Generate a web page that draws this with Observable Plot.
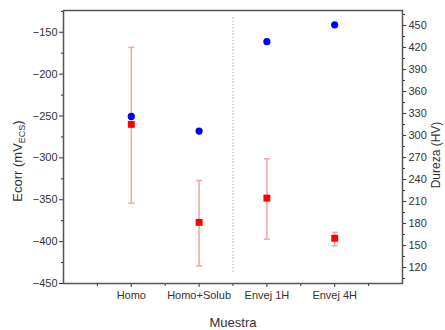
<!DOCTYPE html>
<html><head><meta charset="utf-8">
<script src="https://cdn.jsdelivr.net/npm/d3@7"></script>
<script src="https://cdn.jsdelivr.net/npm/@observablehq/plot@0.6"></script>
<style>
body{margin:0;background:#fff;}
#chart svg{font-family:"Liberation Sans",Arial,sans-serif;}
</style></head>
<body><div id="chart"></div>
<script>
const categories = ["Homo", "Homo+Solub", "Envej 1H", "Envej 4H"];
const ecorr = [-260, -377, -348, -396];
const ecorrLow = [-354, -429, -397, -405];
const ecorrHigh = [-168, -327, -301, -389];
const dureza = [326, 306, 428, 451];

const leftDomain = [-450, -124];
const rightDomain = [98.2, 470.5];
const leftTicks = [-450, -400, -350, -300, -250, -200, -150];
const rightTicks = [120, 150, 180, 210, 240, 270, 300, 330, 360, 390, 420, 450];
const separator = 2.5;

const h2y = d3.scaleLinear().domain(rightDomain).range(leftDomain);

const pts = categories.map((c, i) => ({
  c, x: i + 1, e: ecorr[i], lo: ecorrLow[i], hi: ecorrHigh[i], h: dureza[i]
}));

const leftMinor = d3.range(-425, -124, 50);
const rightMinor = d3.range(105, 470, 30);
const xMinor = [0.5, 1.5, 2.5, 3.5, 4.5];

const capW = 0.045;
const errColor = "#f5a3a3";

const plot = Plot.plot({
  width: 445,
  height: 330,
  marginLeft: 63,
  marginRight: 43,
  marginTop: 10,
  marginBottom: 47,
  style: {fontSize: "11px", color: "#333", background: "#fff"},
  x: {domain: [0, 5]},
  y: {domain: leftDomain},
  marks: [
    Plot.ruleX([separator], {y1: -133, y2: -439, stroke: "#999", strokeDasharray: "1.2,2", strokeWidth: 1}),
    Plot.ruleX(pts, {x: "x", y1: "lo", y2: "hi", stroke: errColor, strokeWidth: 1.5}),
    Plot.link(pts, {x1: d => d.x - capW, x2: d => d.x + capW, y1: "lo", y2: "lo", stroke: errColor, strokeWidth: 1.5}),
    Plot.link(pts, {x1: d => d.x - capW, x2: d => d.x + capW, y1: "hi", y2: "hi", stroke: errColor, strokeWidth: 1.5}),
    Plot.dot(pts, {x: "x", y: "e", symbol: "square", r: 3.9, fill: "#ff0000"}),
    Plot.dot(pts, {x: "x", y: d => h2y(d.h), symbol: "circle", r: 3.6, fill: "#0000ff"}),
    Plot.axisY({ticks: leftTicks, tickSize: 4, tickPadding: 2, label: null, tickFormat: d => d.toString().replace("-", "\u2212")}),
    Plot.axisY({ticks: leftMinor, tickSize: 2, tickFormat: null, text: null, label: null}),
    Plot.axisY({anchor: "right", ticks: rightTicks.map(h2y), tickSize: 3, tickPadding: 3, label: null,
      tickFormat: (d, i) => String(rightTicks[i])}),
    Plot.axisY({anchor: "right", ticks: rightMinor.map(h2y), tickSize: 2, text: null, label: null}),
    Plot.axisX({ticks: [1, 2, 3, 4], tickSize: 4, tickPadding: 4, tickFormat: (d, i) => categories[i],
      label: "Muestra", labelAnchor: "center", labelArrow: "none", labelOffset: 43, fontSize: 11}),
    Plot.axisX({ticks: xMinor, tickSize: 3, text: null, label: null}),
    Plot.frame({stroke: "#555", strokeWidth: 1.5})
  ]
});
document.getElementById("chart").appendChild(plot);

const svg = d3.select(plot);
// Left axis title with subscript
const lt = svg.append("text")
  .attr("transform", "translate(22,161) rotate(-90)")
  .attr("text-anchor", "middle")
  .attr("font-size", 13)
  .attr("fill", "#333");
lt.append("tspan").text("Ecorr (mV");
lt.append("tspan").attr("font-size", 9).attr("dy", 3).text("ECS");
lt.append("tspan").attr("dy", -3).text(")");
// Right axis title
svg.append("text")
  .attr("transform", "translate(440,155) rotate(-90)")
  .attr("text-anchor", "middle")
  .attr("font-size", 12)
  .attr("fill", "#333")
  .text("Dureza (HV)");
svg.selectAll("g[aria-label='x-axis label'] text").attr("font-size", 13);
</script>
</body></html>
